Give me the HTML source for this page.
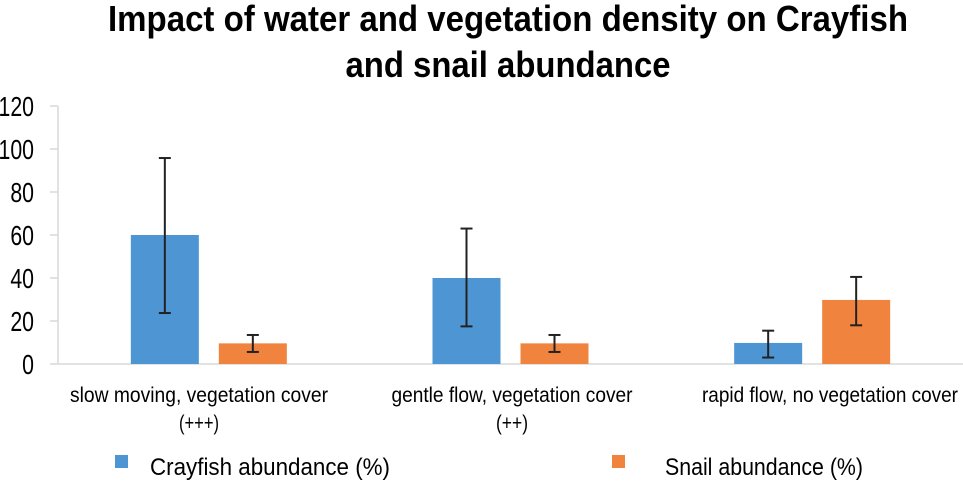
<!DOCTYPE html>
<html><head><meta charset="utf-8"><style>
html,body{margin:0;padding:0;background:#fff;}
svg{display:block;font-family:"Liberation Sans",sans-serif;}
</style></head><body>
<svg id="chart" width="963" height="481" viewBox="0 0 963 481">
<text x="508" y="31" font-size="36" font-weight="bold" text-anchor="middle" textLength="800" lengthAdjust="spacingAndGlyphs">Impact of water and vegetation density on Crayfish</text>
<text x="508" y="77" font-size="36" font-weight="bold" text-anchor="middle" textLength="325" lengthAdjust="spacingAndGlyphs">and snail abundance</text>
<g id="yaxis"></g>
<g id="bars"></g>
<g id="xlabels"></g>
<g>
<rect x="115" y="455" width="13" height="13" fill="#4e96d3"/>
<text x="150" y="475" font-size="24" textLength="240" lengthAdjust="spacingAndGlyphs">Crayfish abundance (%)</text>
<rect x="612" y="455" width="13" height="13" fill="#f0843e"/>
<text x="665" y="475" font-size="24" textLength="198" lengthAdjust="spacingAndGlyphs">Snail abundance (%)</text>
</g>
</svg>
<script>
const categories=["slow moving, vegetation cover|(+++)","gentle flow, vegetation cover|(++)","rapid flow, no vegetation cover"];
const crayfish=[60,40,9.8];
const crayfishLow=[23.7,17.5,3];
const crayfishHigh=[95.8,63,15.5];
const snail=[9.6,9.6,29.8];
const snailLow=[5.6,5.6,18];
const snailHigh=[13.5,13.5,40.5];
const yTicks=[0,20,40,60,80,100,120];
const NS="http://www.w3.org/2000/svg";
const x0=58,x1=963,yBase=364,yTop=106,yMax=120;
function y(v){return yBase-(v/yMax)*(yBase-yTop);}
const band=(x1-x0)/categories.length;
function mk(t,a,p){const e=document.createElementNS(NS,t);for(const k in a)e.setAttribute(k,a[k]);p.appendChild(e);return e;}
const ya=document.getElementById('yaxis');
const ax=mk('line',{x1:x0,y1:yTop,x2:x0,y2:yBase,stroke:'#d9d9d9','stroke-width':1.5},ya);


const bl=mk('line',{x1:x0,y1:yBase,x2:x1,y2:yBase,stroke:'#d9d9d9','stroke-width':1.5},ya);


yTicks.forEach(v=>{
 const tk=mk('line',{x1:x0-8,y1:y(v),x2:x0,y2:y(v),stroke:'#d9d9d9','stroke-width':1.5},ya);
 
 
 const t=mk('text',{x:34,y:y(v)+10,'font-size':28,'text-anchor':'end',transform:`translate(34 0) scale(0.76 1) translate(-34 0)`},ya);
 t.textContent=v;
 
 
});
const bg=document.getElementById('bars');
const bw=68;
function bar(cx,v,lo,hi,col,name){
 const r=mk('rect',{x:cx-bw/2,y:y(v),width:bw,height:yBase-y(v),fill:col},bg);
 
 
 const g=mk('g',{stroke:'#222','stroke-width':2},bg);
 
 
 mk('line',{x1:cx,y1:y(lo),x2:cx,y2:y(hi)},g);
 mk('line',{x1:cx-6,y1:y(lo),x2:cx+6,y2:y(lo)},g);
 mk('line',{x1:cx-6,y1:y(hi),x2:cx+6,y2:y(hi)},g);
}
const xl=document.getElementById('xlabels');
const labelCx=[199,512,830];
const labelW=[258,241,256];
categories.forEach((c,i)=>{
 const cx=x0+band*i+band/2;
 bar(cx-44,crayfish[i],crayfishLow[i],crayfishHigh[i],'#4e96d3','bar-crayfish-'+(i+1));
 bar(cx+44,snail[i],snailLow[i],snailHigh[i],'#f0843e','bar-snail-'+(i+1));
 c.split('|').forEach((ln,j)=>{
  const t=mk('text',{x:labelCx[i],y:402+j*28,'font-size':21,'text-anchor':'middle'},xl);
  t.setAttribute('textLength',j===0?labelW[i]:ln.length*8);
  t.setAttribute('lengthAdjust','spacingAndGlyphs');
  t.textContent=ln;
  
  
 });
});
</script>
</body></html>
